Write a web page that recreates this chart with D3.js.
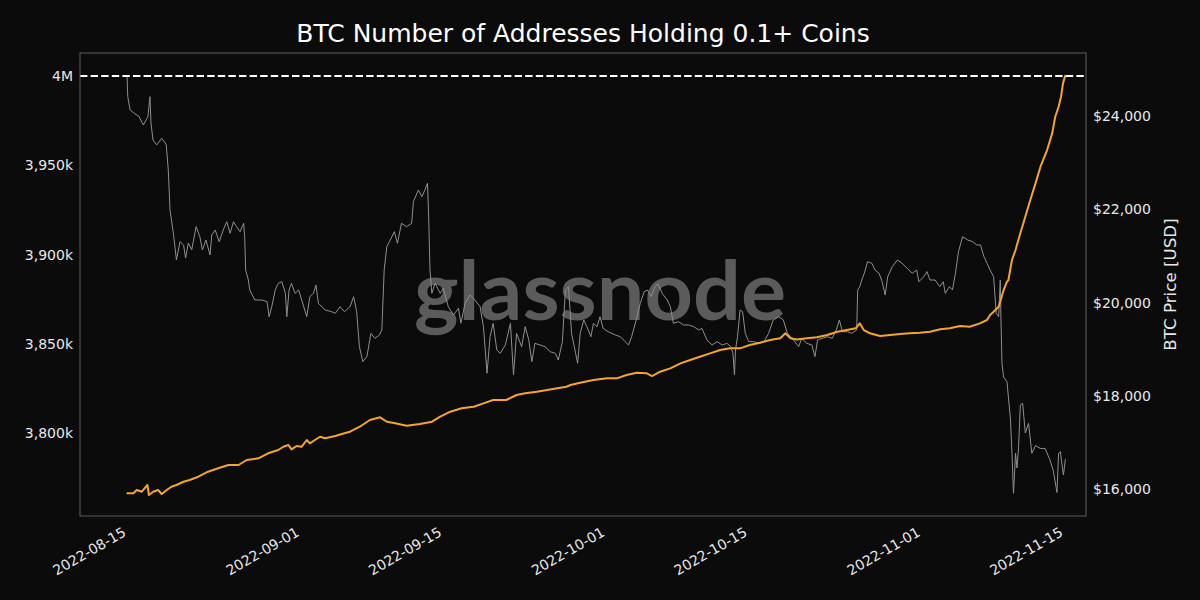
<!DOCTYPE html>
<html>
<head>
<meta charset="utf-8">
<script src="https://cdn.jsdelivr.net/npm/d3@7"></script>
<style>
  html, body { margin: 0; padding: 0; background: #0b0b0b; }
  svg { display: block; }
</style>
</head>
<body>
<svg id="chart" width="1200" height="600"></svg>
<script>
// ---------------- DATA ----------------
const titleText = "BTC Number of Addresses Holding 0.1+ Coins";
const rightAxisLabel = "BTC Price [USD]";
const watermarkText = "glassnode";
const startDate = "2022-08-15"; // day 0 (UTC)

const xTickLabels = ["2022-08-15","2022-09-01","2022-09-15","2022-10-01","2022-10-15","2022-11-01","2022-11-15"];
const leftTickValues = [3800000, 3850000, 3900000, 3950000, 4000000];
const leftTickLabels = ["3,800k", "3,850k", "3,900k", "3,950k", "4M"];
const rightTickValues = [16000, 18000, 20000, 22000, 24000];
const rightTickLabels = ["$16,000", "$18,000", "$20,000", "$22,000", "$24,000"];
const thresholdValue = 4000000;

// Addresses holding 0.1+ BTC (day offset from startDate, count)
const addrDays = [0.1,0.77,1.1,1.6,2.15,2.3,2.73,3.2,3.55,4.05,4.5,5.0,5.7,6.3,7.15,8.1,9.1,10.1,11.1,11.9,
  13.05,14.0,15.0,15.5,16.0,16.3,16.8,17.3,17.8,18.1,18.6,19.1,19.6,20.6,21.5,22.05,23.0,24.0,25.0,25.66,
  26.5,27.6,28.9,30.1,30.9,31.9,33.0,34.2,35.15,36.1,37.4,38.4,39.25,40.4,41.4,42.4,43.3,43.7,44.65,45.95,
  47.3,48.25,49.2,50.2,51.2,51.7,52.5,53.5,54.5,55.45,56.4,57.4,58.4,59.35,60.35,61.3,62.3,63.3,64.3,64.8,
  65.3,65.9,66.9,67.9,68.9,69.9,70.85,71.7,72.1,72.5,73.1,74.1,75.1,76.05,77.0,78.0,79.0,80.0,80.96,81.95,
  82.9,83.9,84.6,84.9,85.25,85.74,85.9,86.23,86.56,86.7,87.05,87.4,87.87,88.36,88.85,89.36,89.85,90.5,91.0,91.3,
  91.63,91.87,92.06,92.3];
const addrValues = [3766310,3766300,3768160,3767200,3770960,3765360,3767200,3768160,3765920,3768160,3770000,3770960,3772800,3773760,3775600,3778400,3780320,3782160,3782160,3784960,
  3785920,3788720,3790560,3792400,3793360,3790940,3792800,3792400,3796160,3794300,3796160,3798000,3797100,3798400,3799900,3800800,3803600,3807360,3808870,3806400,
  3805500,3804200,3805100,3806400,3809200,3812000,3813900,3814800,3816700,3818560,3818560,3821360,3822300,3823200,3824160,3825100,3826000,3826960,3828250,3829760,
  3830700,3830700,3832560,3833850,3833500,3832000,3834400,3836300,3839100,3840960,3842800,3844700,3846560,3847500,3847500,3849360,3850650,3852160,3853100,3855900,
  3853100,3852500,3853100,3853700,3854960,3856800,3857760,3858700,3861500,3857760,3855900,3854400,3854960,3855500,3855900,3856250,3856800,3858150,3858700,3860000,
  3859600,3861500,3863360,3866160,3868000,3870800,3873600,3880160,3884800,3885760,3896960,3902560,3911900,3921200,3930560,3939900,3949200,3958560,3967900,3977200,
  3982800,3988400,3995900,4000500];

// BTC price (day offset from startDate, USD)
const priceDays = [0.15,0.22,0.45,0.9,1.3,1.75,2.2,2.4,2.5,2.7,3.06,3.55,3.9,4.0,4.2,4.37,4.7,5.0,5.35,5.7,
  5.9,6.17,6.5,6.93,7.3,7.55,7.9,8.3,8.47,8.8,9.2,9.6,9.94,10.27,10.6,10.9,11.25,11.6,11.7,11.8,
  12.06,12.2,12.7,13.4,13.9,14.1,14.36,14.7,15.0,15.35,15.7,15.84,16.06,16.3,16.65,17.0,17.3,17.8,18.1,18.45,
  18.7,18.94,19.6,20.25,20.6,21.07,21.5,22.05,22.4,22.7,22.97,23.3,23.7,24.1,24.5,24.93,25.17,25.4,25.66,26.0,
  26.4,26.7,27.1,27.6,28.1,28.27,28.76,29.1,29.4,29.65,29.75,29.9,30.08,30.4,30.9,31.2,31.7,32.2,32.7,32.93,
  33.35,33.84,34.3,34.82,35.15,35.5,35.8,36.1,36.46,36.8,37.3,37.8,38.1,38.4,38.9,39.25,39.6,39.9,40.2,40.7,
  41.2,41.7,42.2,42.5,42.9,43.2,43.5,43.8,44.2,44.4,44.65,45.0,45.3,45.7,45.95,46.3,46.6,46.9,47.4,48.1,
  48.6,49.07,49.4,49.7,50.15,50.55,50.93,51.26,51.6,52.0,52.3,52.7,53.2,53.5,53.8,54.3,54.8,55.3,55.8,56.3,
  56.6,57.1,57.6,58.1,58.6,59.05,59.45,59.65,59.8,59.9,60.1,60.35,60.6,60.86,61.2,61.7,62.2,62.7,63.15,63.6,
  64.15,64.6,65.0,65.6,66.1,66.4,66.9,67.4,67.7,67.96,68.4,68.9,69.4,69.8,70.1,70.4,70.9,71.3,71.8,71.9,
  72.1,72.3,72.55,72.87,73.3,73.6,74.0,74.3,74.6,74.85,75.3,75.8,76.26,76.76,77.25,77.7,77.9,78.4,78.7,79.0,
  79.5,79.96,80.3,80.5,80.9,81.2,81.5,81.8,82.2,82.7,83.2,83.6,83.96,84.3,84.6,84.9,85.25,85.5,85.74,85.9,
  85.97,86.07,86.23,86.56,86.9,87.05,87.2,87.4,87.54,87.7,87.87,88.1,88.36,88.68,89.0,89.36,89.85,90.3,90.75,91.1,
  91.47,91.63,91.8,92.1,92.3];
const priceValues = [24860,24415,24130,24050,24000,23808,23986,24415,23850,23486,23380,23523,23422,23380,22843,21985,21485,20912,21305,21234,
  20955,21277,21127,21627,21412,21127,21341,21019,21448,21556,21305,21556,21734,21485,21734,21627,21520,21699,21412,20697,
  20483,20268,20054,20054,20018,19696,19910,20268,20412,20447,20197,19696,20268,20412,20197,20268,20054,19696,20125,20197,
  20376,19983,19840,19803,19769,19910,19803,19910,20125,19803,19052,18731,18838,19339,19232,19303,19410,20697,21197,21341,
  21520,21270,21699,21627,21699,22163,22414,22270,22414,22557,21985,20697,20197,20412,20197,20305,19910,19732,19876,19554,
  19983,20161,20054,19910,19482,18482,19267,19554,18982,18911,19089,19554,18445,19339,19052,19482,19196,18731,19125,19089,
  19052,18945,18911,18767,19160,20268,20340,19339,18911,18696,19339,19625,19482,19267,19554,19482,19696,19447,19374,19303,
  19267,19160,19089,19267,19625,19983,20233,20268,20125,20340,20397,20197,20054,19910,19554,19589,19518,19518,19482,19410,
  19447,19196,19089,19160,19089,19125,19052,18911,18445,18982,19267,19840,19803,19339,19160,19160,19125,19160,19339,19625,
  19696,19625,19339,19196,19052,19232,19125,19089,18838,19196,19232,19267,19232,19410,19625,19374,19374,19339,19410,20268,
  20340,20483,20627,20876,20841,20697,20627,20447,20161,20554,20769,20912,20841,20734,20627,20697,20447,20554,20662,20483,
  20483,20340,20447,20197,20340,20268,20627,21091,21412,21341,21305,21234,21234,20983,20841,20697,20554,19769,19696,20483,
  19625,18696,18400,18300,17500,16766,15908,16766,16450,16907,17800,17838,17200,17409,16766,16930,16870,16870,16640,16400,
  15925,16766,16800,16300,16640];

// ---------------- CHART ----------------
const W = 1200, H = 600;
const plot = { left: 80, right: 1086, top: 53, bottom: 516 };
const BG = "#0b0b0b";
const DAY = 86400000;
const base = d3.utcParse("%Y-%m-%d")(startDate).getTime();
const toDate = d => new Date(base + d * DAY);

const svg = d3.select("#chart");
svg.append("rect").attr("width", W).attr("height", H).attr("fill", BG);

const x = d3.scaleUtc()
  .domain([toDate(-4.47), toDate(94.32)])
  .range([plot.left, plot.right]);
const yL = d3.scaleLinear().domain([3753600, 4012900]).range([plot.bottom, plot.top]);
const yR = d3.scaleLinear().domain([15421, 25352]).range([plot.bottom, plot.top]);

// watermark
svg.append("text")
  .attr("x", 600).attr("y", 320)
  .attr("text-anchor", "middle")
  .attr("font-family", "Lato, 'Open Sans', sans-serif")
  .attr("font-weight", 700)
  .attr("font-size", 82)
  .attr("textLength", 372)
  .attr("lengthAdjust", "spacingAndGlyphs")
  .attr("fill", "#5b5b5b")
  .text(watermarkText);

svg.append("clipPath").attr("id", "clip")
  .append("rect").attr("x", plot.left).attr("y", plot.top)
  .attr("width", plot.right - plot.left).attr("height", plot.bottom - plot.top);

const g = svg.append("g").attr("clip-path", "url(#clip)");

// price line (gray)
const priceData = priceDays.map((d, i) => ({ t: toDate(d), v: priceValues[i] }));
g.append("path")
  .datum(priceData)
  .attr("fill", "none")
  .attr("stroke", "#8f8f8f")
  .attr("stroke-width", 1)
  .attr("stroke-linejoin", "round")
  .attr("d", d3.line().x(p => x(p.t)).y(p => yR(p.v)));

// addresses line (orange)
const addrData = addrDays.map((d, i) => ({ t: toDate(d), v: addrValues[i] }));
g.append("path")
  .datum(addrData)
  .attr("fill", "none")
  .attr("stroke", "#f5a52a")
  .attr("stroke-width", 2)
  .attr("stroke-linejoin", "round")
  .attr("d", d3.line().x(p => x(p.t)).y(p => yL(p.v)));

// threshold dashed line
svg.append("line")
  .attr("x1", plot.left).attr("x2", plot.right)
  .attr("y1", yL(thresholdValue)).attr("y2", yL(thresholdValue))
  .attr("stroke", "#ffffff")
  .attr("stroke-width", 2)
  .attr("stroke-dasharray", "7.4,3.2");

// frame
svg.append("rect")
  .attr("x", plot.left).attr("y", plot.top)
  .attr("width", plot.right - plot.left).attr("height", plot.bottom - plot.top)
  .attr("fill", "none").attr("stroke", "#5e5e5e").attr("stroke-width", 1);

const tickFont = "'DejaVu Sans', Verdana, sans-serif";

// left axis
const axL = svg.append("g").attr("transform", `translate(${plot.left},0)`)
  .call(d3.axisLeft(yL).tickValues(leftTickValues)
    .tickFormat((d, i) => leftTickLabels[i]).tickSize(0).tickPadding(7));
axL.select(".domain").remove();
axL.selectAll("text").attr("fill", "#e8e8e8").attr("font-size", 14).attr("font-family", tickFont);

// right axis
const axR = svg.append("g").attr("transform", `translate(${plot.right},0)`)
  .call(d3.axisRight(yR).tickValues(rightTickValues)
    .tickFormat((d, i) => rightTickLabels[i]).tickSize(0).tickPadding(7));
axR.select(".domain").remove();
axR.selectAll("text").attr("fill", "#e8e8e8").attr("font-size", 14).attr("font-family", tickFont);

// bottom axis
const parse = d3.utcParse("%Y-%m-%d");
const axB = svg.append("g").attr("transform", `translate(0,${plot.bottom})`)
  .call(d3.axisBottom(x).tickValues(xTickLabels.map(parse))
    .tickFormat((d, i) => xTickLabels[i]).tickSize(0));
axB.select(".domain").remove();
axB.selectAll("text")
  .attr("fill", "#e8e8e8").attr("font-size", 14).attr("font-family", tickFont)
  .attr("y", 0).attr("dy", 0)
  .attr("text-anchor", "end")
  .attr("transform", "translate(1,19) rotate(-30)");

// title
svg.append("text")
  .attr("x", (plot.left + plot.right) / 2).attr("y", 42)
  .attr("text-anchor", "middle")
  .attr("font-family", tickFont)
  .attr("font-size", 25)
  .attr("fill", "#ffffff")
  .text(titleText);

// right axis label
svg.append("text")
  .attr("transform", `translate(1176,${(plot.top + plot.bottom) / 2}) rotate(-90)`)
  .attr("text-anchor", "middle")
  .attr("font-family", tickFont)
  .attr("font-size", 16.7)
  .attr("fill", "#e8e8e8")
  .text(rightAxisLabel);
</script>
</body>
</html>
